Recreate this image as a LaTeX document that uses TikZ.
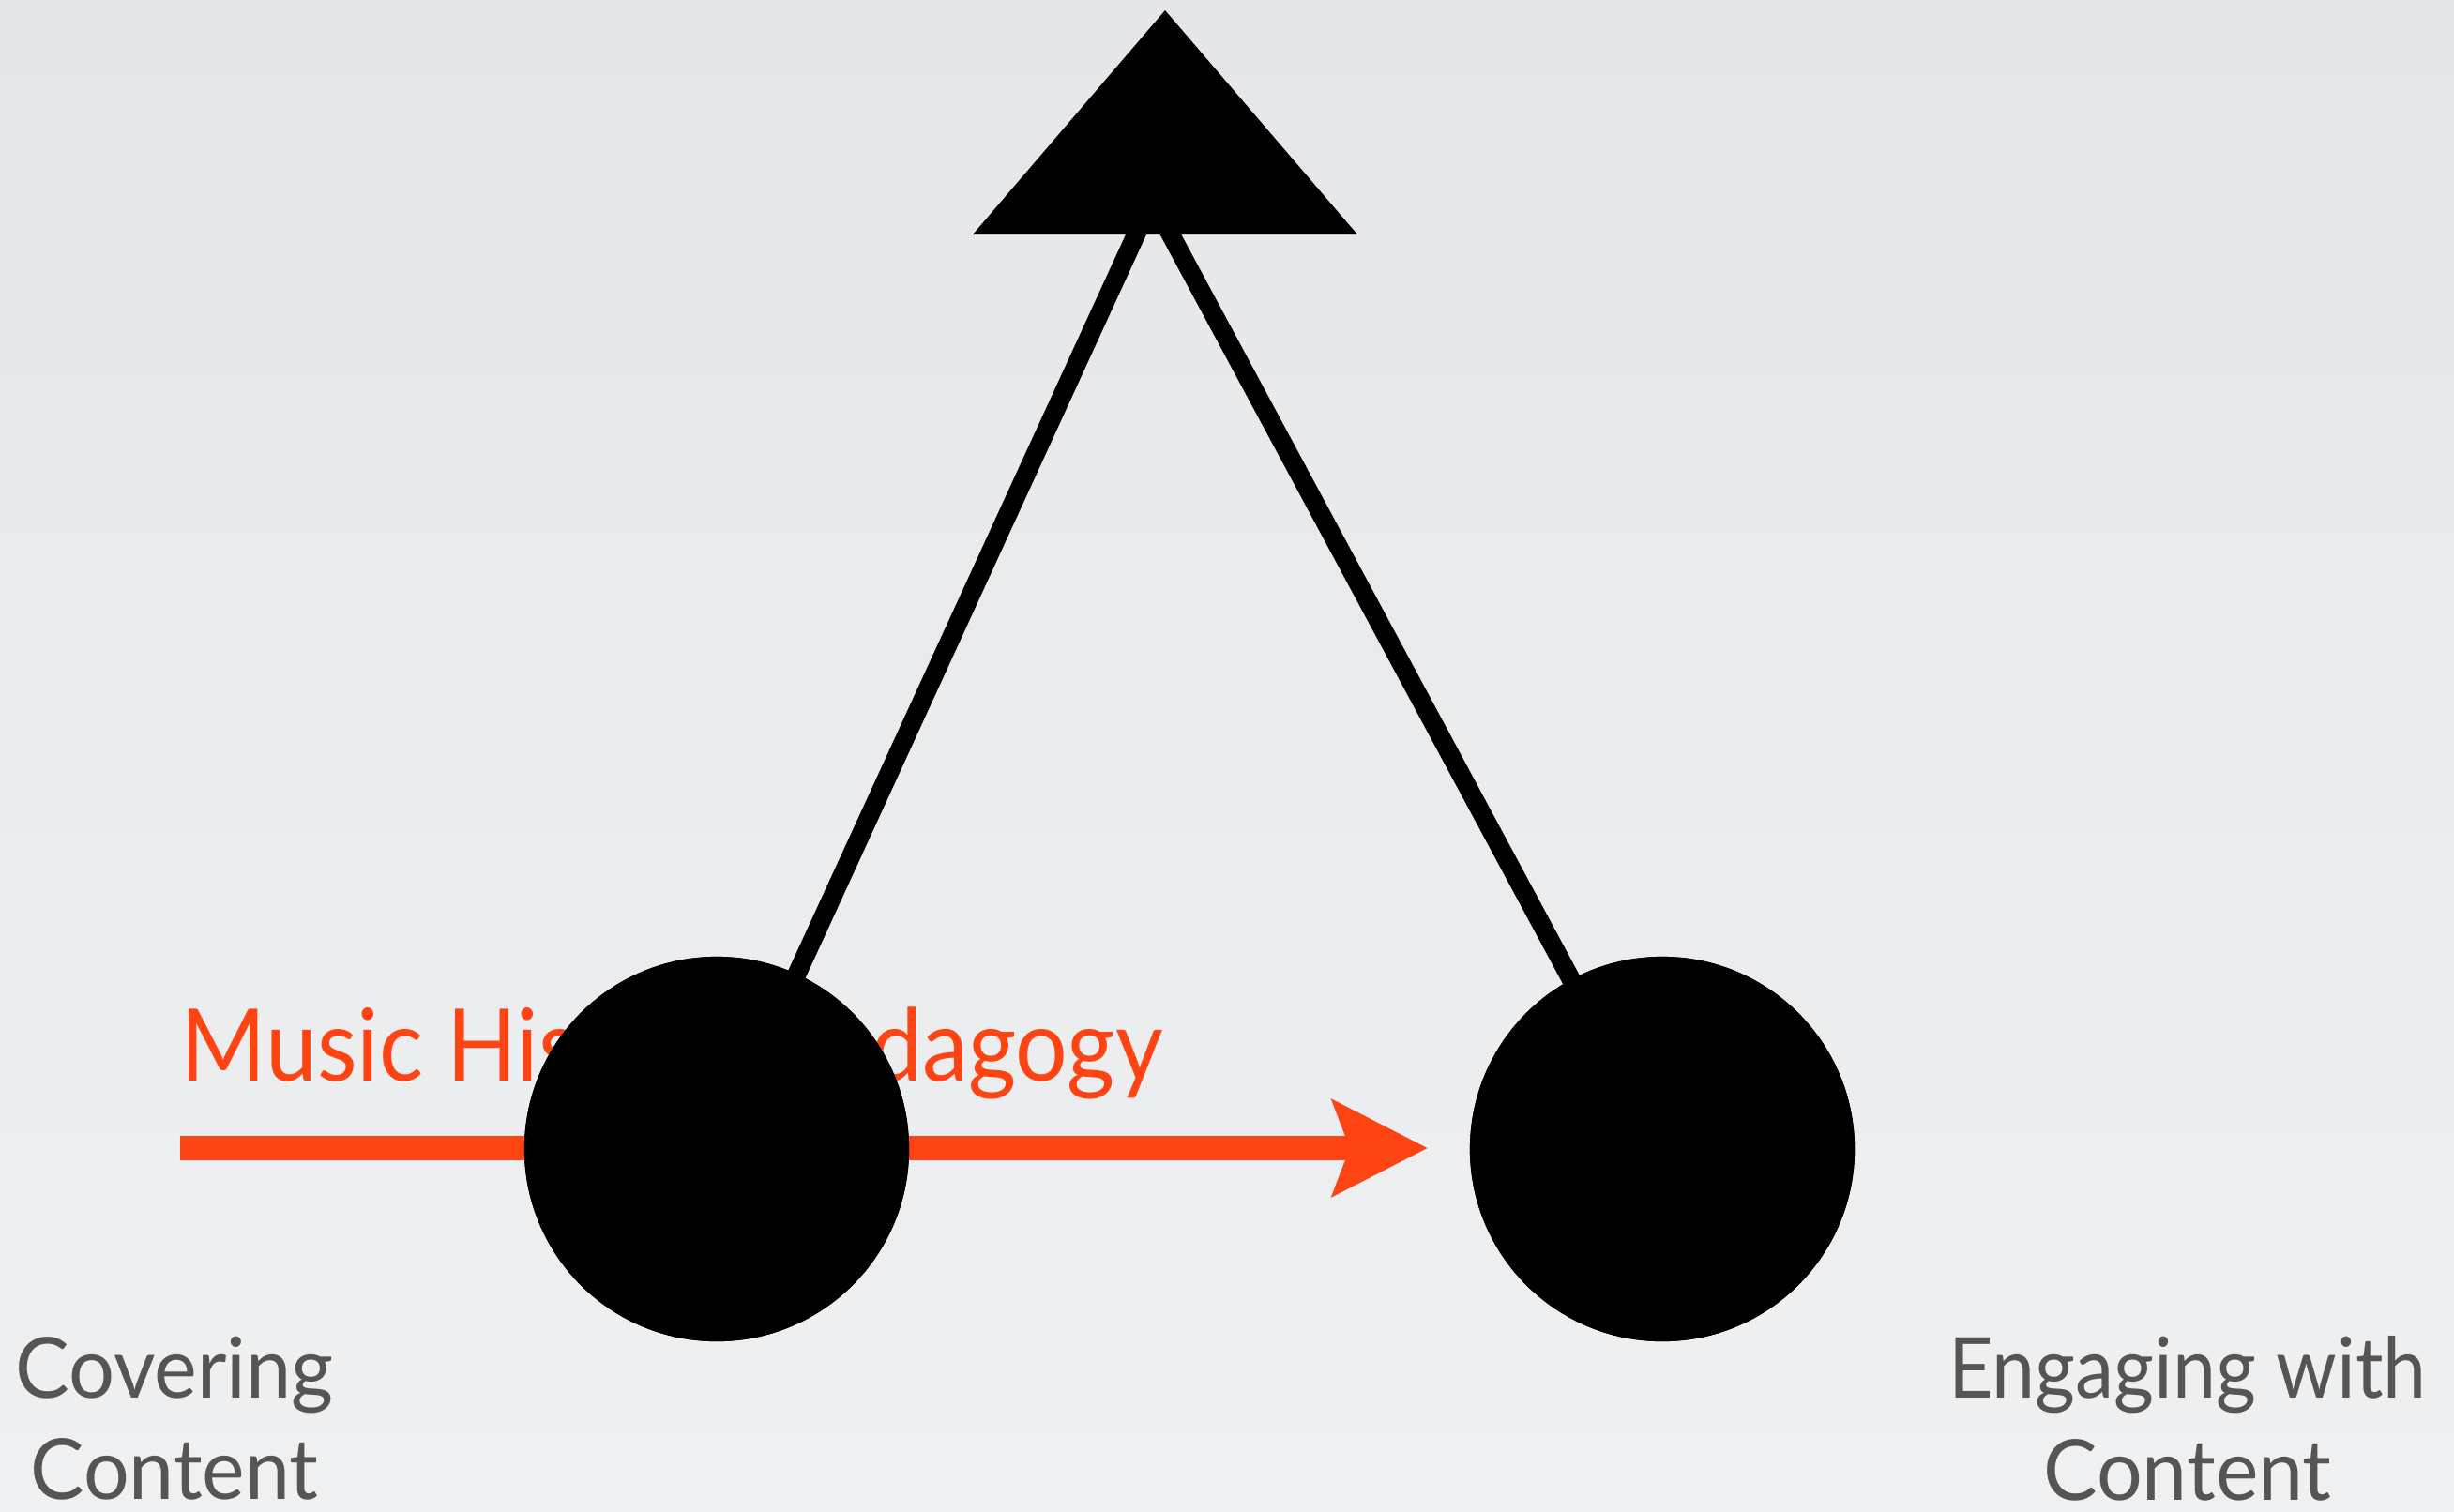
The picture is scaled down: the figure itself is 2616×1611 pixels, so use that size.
\documentclass[tikz,border=0pt]{standalone}
\usepackage{fontspec}
\usepackage{graphicx}
\setmainfont{Lato}
\usetikzlibrary{arrows.meta}
\definecolor{bgtop}{RGB}{228,230,233}
\definecolor{bgbot}{RGB}{239,240,242}
\definecolor{redor}{RGB}{255,68,20}
\definecolor{labgray}{RGB}{85,85,85}
\newcommand{\narrow}[2]{\scalebox{#1}[1]{#2}}
\tikzset{
  dot/.style={circle,fill=black,minimum size=4.1cm,inner sep=0pt},
  stem/.style={line width=0.2cm,black},
  label/.style={font=\fontsize{25.5pt}{30.9pt}\selectfont,text=labgray,align=center,inner sep=0pt},
  redarrow/.style={line width=0.26cm,redor,-{Stealth[length=1.01cm,width=1.01cm,inset=0.18cm]}}
}
\begin{document}
\begin{tikzpicture}[x=0.01cm,y=-0.01cm]
\shade[top color=bgtop,bottom color=bgbot] (0,0) rectangle (2616,1611);
\useasboundingbox (0,0) rectangle (2616,1611);
% red label
\node[font=\fontsize{30.4pt}{36pt}\selectfont,text=redor,anchor=base west,inner sep=0pt] (mhp) at (192,1152) {\narrow{0.92}{Music History Pedagogy}};
% arrow
\coordinate (astart) at (192,1224);
\coordinate (aend) at (1522,1224);
\draw[redarrow] (astart) -- (aend);
% nodes
\node[dot] (left) at (764,1225) {};
\node[dot] (right) at (1772,1225) {};
\coordinate (meet) at (1228,213);
\draw[stem] (left.center) -- (meet);
\draw[stem] (right.center) -- (meet);
\fill[black] (1037,250) -- (1242,11) -- (1447,250) -- cycle;
\node[dot] at (left) {};
\node[dot] at (right) {};
% labels
\node[label,anchor=north] (cov) at (186,1424) {\narrow{0.965}{Covering}\\\narrow{0.96}{Content}};
\node[label,anchor=north] (eng) at (2332,1424) {\narrow{0.92}{Engaging with}\\\narrow{0.96}{Content}};
\end{tikzpicture}
\end{document}
